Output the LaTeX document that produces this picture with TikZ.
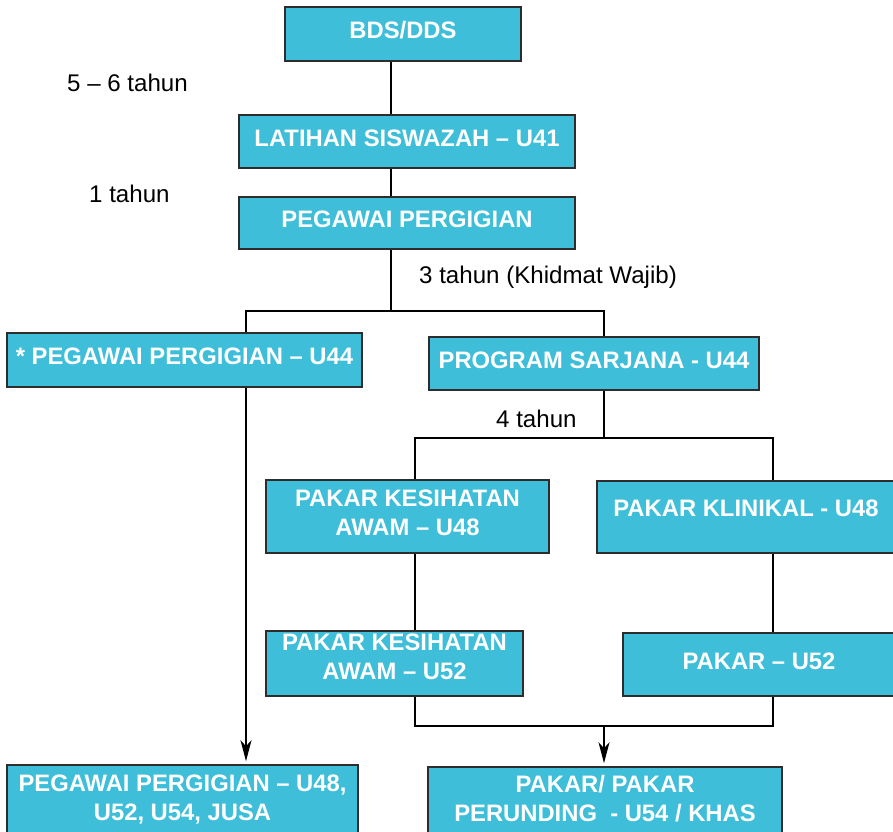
\documentclass[tikz,border=0pt]{standalone}
\usepackage{fontspec}
\setmainfont{Liberation Sans}
\usetikzlibrary{arrows.meta}
\definecolor{boxblue}{RGB}{62,190,216}
\definecolor{boxline}{RGB}{45,45,45}

\begin{document}
\begin{tikzpicture}[x=1pt, y=-1pt,
        box/.style={draw=boxline, line width=1.6pt, fill=boxblue, text=white,
            font=\fontsize{23.8}{29}\selectfont\bfseries, align=center,
            inner sep=0pt, text height=17pt, text depth=8pt},
        twoline/.style={text height=46pt},
        tag/.style={font=\fontsize{24.1}{29}\selectfont, inner sep=0pt, anchor=base west},
        conn/.style={line width=1.5pt},
        arr/.style={conn, shorten >=3pt, -{Stealth[length=21pt, width=11pt, inset=6pt]}}]
    \useasboundingbox (0,0) rectangle (893,831);
    \node[box, minimum width=236pt, minimum height=54pt] (bds)    at (403,34)    {BDS/DDS};
    \node[box, minimum width=336pt, minimum height=53pt] (lat)    at (407,141.5) {LATIHAN SISWAZAH – U41};
    \node[box, minimum width=336pt, minimum height=52pt] (peg)    at (407,223)   {PEGAWAI PERGIGIAN};
    \node[box, minimum width=355pt, minimum height=54pt] (pegu44) at (184.5,360) {* PEGAWAI PERGIGIAN – U44};
    \node[box, minimum width=330pt, minimum height=53pt] (prog)   at (594,363.5) {PROGRAM SARJANA - U44};
    \node[box, twoline, minimum width=283pt, minimum height=73pt] (kesu48) at (407.5,516.5) {PAKAR KESIHATAN\\AWAM – U48};
    \node[box, minimum width=298pt, minimum height=72pt, text depth=18pt] (klin) at (746,517) {PAKAR KLINIKAL - U48};
    \node[box, twoline, minimum width=257pt, minimum height=65pt, text depth=14pt] (kesu52) at (394.5,663.5) {PAKAR KESIHATAN\\AWAM – U52};
    \node[box, minimum width=272pt, minimum height=63pt] (paku52) at (759,664.5) {PAKAR – U52};
    \node[box, twoline, minimum width=351pt, minimum height=70pt, text depth=6pt] (pegu48) at (182.5,800) {PEGAWAI PERGIGIAN – U48,\\U52, U54, JUSA};
    \node[box, twoline, minimum width=354pt, minimum height=68pt, text depth=6pt] (perund) at (605,801) {PAKAR/ PAKAR\\PERUNDING~ - U54 / KHAS};

    \node[tag] (t1) at (67,91)  {5 – 6 tahun};
    \node[tag] (t2) at (89,202) {1 tahun};
    \node[tag] (t3) at (419,283) {3 tahun (Khidmat Wajib)};
    \node[tag] (t4) at (496,427) {4 tahun};

    \coordinate (j1)  at (391,311);
    \coordinate (j1l) at (246,311);
    \coordinate (j1r) at (604,311);
    \coordinate (j2)  at (604,438);
    \coordinate (j2l) at (415,438);
    \coordinate (j2r) at (773,438);
    \coordinate (j3)  at (604,726);
    \coordinate (j3l) at (415,726);
    \coordinate (j3r) at (773,726);

    \draw[conn] (bds.south -| j1) -- (lat.north -| j1);
    \draw[conn] (lat.south -| j1) -- (peg.north -| j1);
    \draw[conn] (peg.south -| j1) -- (j1);
    \draw[conn] (pegu44.north -| j1l) -- (j1l) -- (j1r) -- (prog.north -| j1r);
    \draw[conn] (prog.south -| j2) -- (j2);
    \draw[conn] (kesu48.north -| j2l) -- (j2l) -- (j2r) -- (klin.north -| j2r);
    \draw[conn] (kesu48.south -| j2l) -- (kesu52.north -| j2l);
    \draw[conn] (klin.south -| j2r) -- (paku52.north -| j2r);
    \draw[conn] (kesu52.south -| j3l) -- (j3l) -- (j3r) -- (paku52.south -| j3r);
    \draw[arr] (j3) -- (perund.north -| j3);
    \draw[arr] (pegu44.south -| j1l) -- (pegu48.north -| j1l);
\end{tikzpicture}
\end{document}
